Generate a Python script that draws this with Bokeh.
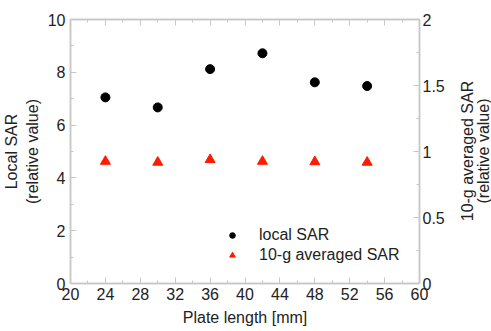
from bokeh.plotting import figure
from bokeh.models import LinearAxis, Range1d, FixedTicker, Legend, LegendItem, Div
from bokeh.layouts import row
from bokeh.embed import file_html
from bokeh.resources import INLINE

plate_length = [24, 30, 36, 42, 48, 54]
local_sar = [7.05, 6.67, 8.12, 8.72, 7.62, 7.48]
avg_sar = [0.925, 0.918, 0.938, 0.925, 0.922, 0.918]

x_ticks = [20, 24, 28, 32, 36, 40, 44, 48, 52, 56, 60]
x_minor = [22, 26, 30, 34, 38, 42, 46, 50, 54, 58]
yl_ticks = [0, 2, 4, 6, 8, 10]
yl_minor = [1, 3, 5, 7, 9]
yr_ticks = [0, 0.5, 1, 1.5, 2]
yr_minor = [0.25, 0.75, 1.25, 1.75]

right_title = ["10-g averaged SAR", "(relative value)"]

FONT = "Liberation Sans"
FRAME = "#c8c8c8"
TXT = "#222222"
FS = "16px"

p = figure(width=447, height=331, x_range=Range1d(20, 60), y_range=Range1d(0, 10),
           output_backend="svg", toolbar_location=None,
           min_border_left=68, min_border_right=28, min_border_top=19, min_border_bottom=48)
p.extra_y_ranges = {"r": Range1d(0, 2)}
p.xgrid.visible = False
p.ygrid.visible = False
p.outline_line_color = FRAME
p.outline_line_width = 1.5

def style(ax, ticks, minor, minor_len=3):
    ax.ticker = FixedTicker(ticks=ticks, minor_ticks=minor)
    ax.axis_line_color = FRAME
    ax.axis_line_width = 1.5
    ax.major_tick_line_color = FRAME
    ax.minor_tick_line_color = FRAME
    ax.major_tick_in = 6
    ax.major_tick_out = 0
    ax.minor_tick_in = minor_len
    ax.minor_tick_out = 0
    ax.major_label_text_font = FONT
    ax.major_label_text_font_size = FS
    ax.major_label_text_color = TXT
    ax.axis_label_text_font = FONT
    ax.axis_label_text_font_size = FS
    ax.axis_label_text_font_style = "normal"
    ax.axis_label_text_color = TXT
    ax.major_label_standoff = 3

xa = p.xaxis[0]
style(xa, x_ticks, x_minor)
xa.axis_label = "Plate length [mm]"
xa.major_label_standoff = 4
xa.axis_label_standoff = 6

ya = p.yaxis[0]
style(ya, yl_ticks, yl_minor)
ya.axis_label = "Local SAR\n(relative value)"
ya.major_label_standoff = 5
ya.axis_label_standoff = 4

ra = LinearAxis(y_range_name="r")
style(ra, yr_ticks, yr_minor)
ra.major_label_standoff = 3
p.add_layout(ra, "right")

# top edge ticks (no labels)
ta1 = LinearAxis()
style(ta1, [], x_ticks, minor_len=6)
p.add_layout(ta1, "above")
ta2 = LinearAxis()
style(ta2, [], x_minor, minor_len=3)
ta2.axis_line_alpha = 0
p.add_layout(ta2, "above")

r1 = p.scatter(plate_length, local_sar, size=9, color="black", marker="circle")
r2 = p.scatter(plate_length, avg_sar, size=10, color="#ff1a00", marker="triangle",
               y_range_name="r")

legend = Legend(items=[LegendItem(label="local SAR", renderers=[r1]),
                       LegendItem(label="10-g averaged SAR", renderers=[r2])],
                location=(151, 15))
legend.background_fill_alpha = 0
legend.border_line_alpha = 0
legend.label_text_font = FONT
legend.label_text_font_size = FS
legend.label_text_color = TXT
legend.glyph_width = 14
legend.glyph_height = 14
legend.label_height = 16
legend.label_standoff = 20
legend.spacing = 2
legend.padding = 4
p.add_layout(legend, "center")

html = ('<div style="position:absolute;left:29px;top:151px;'
        'transform:translate(-50%,-50%) rotate(-90deg);white-space:nowrap;'
        'text-align:center;font-family:\'Liberation Sans\';font-size:16px;'
        'line-height:16px;color:#222222">'
        + "<br>".join(right_title) + '</div>')
div = Div(text=html, width=44, height=331, margin=0,
          styles={"overflow": "visible", "position": "relative"})

layout = row(p, div, spacing=0)
open("out.html", "w").write(file_html(layout, INLINE))
